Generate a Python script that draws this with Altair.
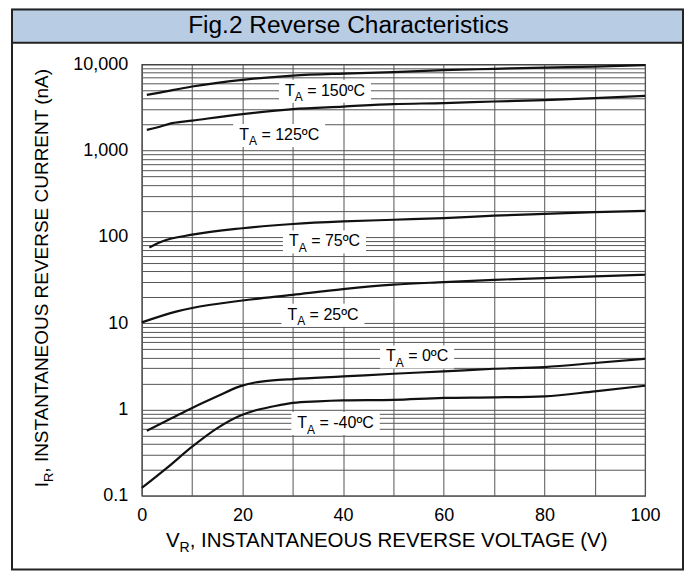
import altair as alt
import pandas as pd

FONT = "Liberation Sans"

# ---------------- data ----------------
v_150 = [1, 3, 10, 20, 30, 40, 50, 60, 70, 80, 90, 100]
i_150 = [4430, 4640, 5530, 6610, 7410, 7820, 8120, 8570, 8870, 9180, 9430, 9790]

v_125 = [1, 3, 6, 10, 20, 30, 40, 50, 60, 70, 80, 90, 100]
i_125 = [1740, 1850, 2080, 2230, 2650, 3030, 3240, 3460, 3550, 3710, 3850, 4060, 4320]

v_75 = [1.5, 4, 10, 20, 30, 40, 50, 60, 70, 80, 90, 100]
i_75 = [75.4, 88.5, 106, 126, 141, 151, 158, 165, 176, 185, 194, 200]

v_25 = [0, 7, 10, 20, 30, 40, 50, 60, 70, 80, 90, 100]
i_25 = [10.2, 13.7, 15.0, 18.3, 21.3, 24.8, 27.9, 29.9, 31.8, 33.3, 34.8, 36.4]

v_0 = [1, 6, 10, 15, 19.5, 22.5, 26, 30, 40, 50, 60, 70, 80, 90, 100]
i_0 = [0.566, 0.794, 1.04, 1.42, 1.85, 2.05, 2.17, 2.25, 2.41, 2.59, 2.76, 2.96, 3.10, 3.45, 3.87]

v_m40 = [0, 5, 10, 15, 19.5, 22.5, 26, 30, 35, 40, 50, 60, 70, 80, 90, 100]
i_m40 = [0.123, 0.21, 0.37, 0.608, 0.846, 0.973, 1.08, 1.19, 1.24, 1.27, 1.29, 1.36, 1.38, 1.42, 1.62, 1.88]

series_names = ["150", "125", "75", "25", "0", "-40"]
series_v = [v_150, v_125, v_75, v_25, v_0, v_m40]
series_i = [i_150, i_125, i_75, i_25, i_0, i_m40]

# curve labels: text after "T_A", and label centre (V, nA)
label_rest = ["= 150ºC", "= 125ºC", "= 75ºC", "= 25ºC", "= 0ºC", "= -40ºC"]
label_v = [36.4, 27.3, 36.3, 36.0, 54.7, 38.5]
label_i = [4930, 1520, 88.5, 12.5, 4.11, 0.695]

x_ticks = [0, 10, 20, 30, 40, 50, 60, 70, 80, 90, 100]
x_labelled = [0, 20, 40, 60, 80, 100]
y_ticks = []
for dec in [0.1, 1, 10, 100, 1000]:
    for k in range(1, 10):
        y_ticks.append(round(k * dec, 6))
y_ticks.append(10000)
y_labelled = [0.1, 1, 10, 100, 1000, 10000]

title_text = "Fig.2 Reverse Characteristics"
x_title = ("V", "R", ", INSTANTANEOUS REVERSE VOLTAGE (V)")
y_title = ("I", "R", ", INSTANTANEOUS REVERSE CURRENT (nA)")

# ---------------- helpers ----------------
AW = {' ': 278, ',': 278, '=': 584, 'º': 365, 'C': 722, '-': 333, 'T': 611, 'A': 667,
      'I': 278, 'V': 667, 'R': 722, '(': 333, ')': 333, 'N': 722, 'S': 667, 'E': 667,
      'O': 778, 'U': 722, 'L': 556, 'G': 778, 'n': 556, '.': 278}
for d in "0123456789":
    AW[d] = 556


def tw(s, size):
    return sum(AW.get(c, 600) for c in s) * size / 1000.0


W, H = 504, 432

curves = pd.DataFrame(
    [{"series": n, "v": v, "i": i}
     for n, vs, iss in zip(series_names, series_v, series_i)
     for v, i in zip(vs, iss)]
)

x_enc = alt.X(
    "v:Q",
    scale=alt.Scale(domain=[0, 100], nice=False, zero=False),
    axis=alt.Axis(
        values=x_ticks,
        labelExpr="indexof(%s, datum.value) >= 0 ? datum.label : ''" % str(x_labelled),
        title=None, ticks=False, domain=False, grid=True,
        gridColor="#555555", gridWidth=1,
        labelFont=FONT, labelFontSize=18, labelColor="#000000",
        labelPadding=11, labelFlush=False, labelOverlap=False,
    ),
)
y_enc = alt.Y(
    "i:Q",
    scale=alt.Scale(type="log", domain=[0.1, 10000], nice=False),
    axis=alt.Axis(
        values=y_ticks, format=",",
        labelExpr="indexof(%s, datum.value) >= 0 ? datum.label : ''" % str(y_labelled),
        title=None, ticks=False, domain=False, grid=True,
        gridColor="#555555", gridWidth=1,
        labelFont=FONT, labelFontSize=18, labelColor="#000000",
        labelPadding=14, labelFlush=False, labelOverlap=False,
    ),
)

one = pd.DataFrame({"k": [0]})
layers = []

# title band and frame
layers.append(alt.Chart(one).mark_rect(fill="#b8cce4").encode(
    x=alt.value(-130), x2=alt.value(542), y=alt.value(-56), y2=alt.value(-21.7)))
layers.append(alt.Chart(one).mark_rule(color="#222222", strokeWidth=2).encode(
    x=alt.value(-130), x2=alt.value(542), y=alt.value(-21.7)))
layers.append(alt.Chart(one).mark_rect(fillOpacity=0, stroke="#222222", strokeWidth=2).encode(
    x=alt.value(-130), x2=alt.value(542), y=alt.value(-55), y2=alt.value(506)))
layers.append(alt.Chart(one).mark_text(
    text=title_text, font=FONT, fontSize=24.5, align="center", baseline="alphabetic",
    color="#000000").encode(x=alt.value(207), y=alt.value(-31)))

# curves
layers.append(alt.Chart(curves).mark_line(
    color="#111111", strokeWidth=2.2, interpolate="monotone").encode(
    x=x_enc, y=y_enc, detail="series:N"))

# curve labels
LF, LS = 16, 12
for rest, lv, li in zip(label_rest, label_v, label_i):
    df = pd.DataFrame({"v": [lv], "i": [li]})
    wT, wA, wR = tw("T", LF), tw("A", LS), tw(rest, LF) + tw(" ", LF)
    tot = wT + wA + wR
    start = -tot / 2
    layers.append(alt.Chart(df).mark_rect(
        fill="white", xOffset=start - 6, x2Offset=tot / 2 + 6, yOffset=-11, y2Offset=12
    ).encode(x=x_enc, x2="v:Q", y=y_enc, y2="i:Q"))
    layers.append(alt.Chart(df).mark_text(
        text="T", font=FONT, fontSize=LF, align="left", baseline="middle",
        dx=start, color="#000000").encode(x=x_enc, y=y_enc))
    layers.append(alt.Chart(df).mark_text(
        text="A", font=FONT, fontSize=LS, align="left", baseline="middle",
        dx=start + wT, dy=6.5, color="#000000").encode(x=x_enc, y=y_enc))
    layers.append(alt.Chart(df).mark_text(
        text=rest, font=FONT, fontSize=LF, align="left", baseline="middle",
        dx=start + wT + wA + tw(" ", LF), color="#000000").encode(x=x_enc, y=y_enc))

# x axis title with subscript
XF, XS = 20.5, 14
wV, wRs, wRest = tw(x_title[0], XF), tw(x_title[1], XS), tw(x_title[2], XF)
xs = 248.5 - (wV + wRs + wRest) / 2
for txt, size, xoff, dy in [(x_title[0], XF, 0, 0), (x_title[1], XS, wV, 5),
                            (x_title[2], XF, wV + wRs, 0)]:
    layers.append(alt.Chart(one).mark_text(
        text=txt, font=FONT, fontSize=size, align="left", baseline="alphabetic",
        dy=dy, color="#000000").encode(x=alt.value(xs + xoff), y=alt.value(483)))

# y axis title with subscript (rotated)
YF, YS = 19, 13
wI, wRs2, wRest2 = tw(y_title[0], YF), tw(y_title[1], YS), tw(y_title[2], YF)
ys = -(wI + wRs2 + wRest2) / 2
for txt, size, off, dy in [(y_title[0], YF, 0, 0), (y_title[1], YS, wI, 5),
                           (y_title[2], YF, wI + wRs2, 0)]:
    layers.append(alt.Chart(one).mark_text(
        text=txt, font=FONT, fontSize=size, align="left", baseline="alphabetic",
        angle=270, dx=ys + off, dy=dy, color="#000000").encode(
        x=alt.value(-94), y=alt.value(212.5)))

chart = alt.layer(*layers).properties(
    width=W, height=H,
    padding={"left": 134, "top": 56, "right": 39, "bottom": 76},
    autosize=alt.AutoSizeParams(type="none"),
    background="white",
).configure_view(stroke="#222222", strokeWidth=1.2)

chart.save("out.html", embed_options={"renderer": "svg", "actions": False})
